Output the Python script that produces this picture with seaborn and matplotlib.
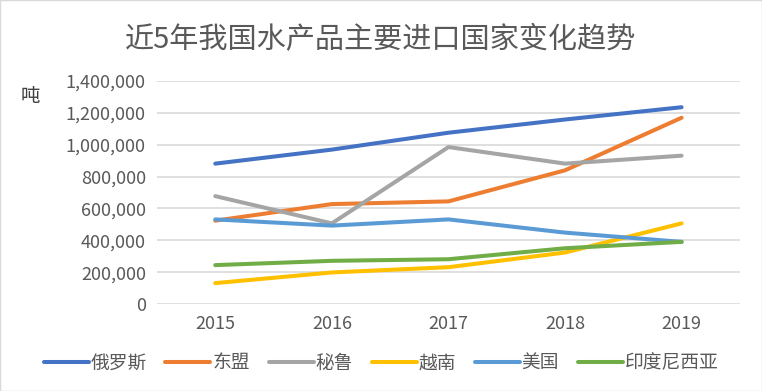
import pandas as pd
import matplotlib.pyplot as plt
import seaborn as sns
from matplotlib.ticker import FuncFormatter

years = ['2015', '2016', '2017', '2018', '2019']
countries = ['俄罗斯', '东盟', '秘鲁', '越南', '美国', '印度尼西亚']
russia = [881000, 969000, 1075000, 1158000, 1235000]
asean = [523000, 627000, 644000, 839000, 1169000]
peru = [677000, 506000, 985000, 881000, 931000]
vietnam = [131000, 198000, 231000, 323000, 506000]
usa = [531000, 492000, 531000, 448000, 390000]
indonesia = [244000, 271000, 281000, 350000, 390000]
colors = ['#4472C4', '#ED7D31', '#A5A5A5', '#FFC000', '#5B9BD5', '#70AD47']

series = [russia, asean, peru, vietnam, usa, indonesia]
rows = []
for name, vals in zip(countries, series):
    for y, v in zip(years, vals):
        rows.append({'年份': y, '国家': name, '吨': v})
df = pd.DataFrame(rows)

sns.set_style('white')
plt.rcParams['font.family'] = ['Noto Sans CJK SC', 'DejaVu Sans']

fig = plt.figure(figsize=(7.62, 3.91), dpi=100)
ax = fig.add_axes([0.206, 0.2225, 0.765, 0.5705])

sns.lineplot(data=df, x='年份', y='吨', hue='国家', hue_order=countries,
             palette=colors, linewidth=2.9, ax=ax, sort=False)

ax.set_xlim(-0.5, 4.5)
ax.set_ylim(0, 1400000)
ax.set_yticks(range(0, 1400001, 200000))
ax.yaxis.set_major_formatter(FuncFormatter(lambda v, p: f'{int(v):,}'))
ax.grid(axis='y', color='#d9d9d9', linewidth=1.2)
ax.set_axisbelow(True)
for s in ax.spines.values():
    s.set_visible(False)
ax.tick_params(axis='both', length=0, labelsize=13, colors='#595959', pad=8)
ax.set_xlabel('')
ax.set_ylabel('')

fig.text(0.04, 0.752, '吨', fontsize=14, color='#404040', ha='center', va='center')
fig.text(0.5, 0.898, '近5年我国水产品主要进口国家变化趋势', fontsize=21,
         color='#595959', ha='center', va='center')

ax.get_legend().remove()
handles, labels = ax.get_legend_handles_labels()
fig.legend(handles, labels, loc='center', bbox_to_anchor=(0.5, 0.072), ncol=6,
           frameon=False, fontsize=13.5, handlelength=2.4, handletextpad=0.1,
           columnspacing=1.0, labelcolor='#595959')

fig.patches.append(plt.Rectangle((0, 0), 1, 1, transform=fig.transFigure,
                                 fill=False, edgecolor='#d9d9d9', linewidth=1))

fig.savefig('out.png', dpi=100)
